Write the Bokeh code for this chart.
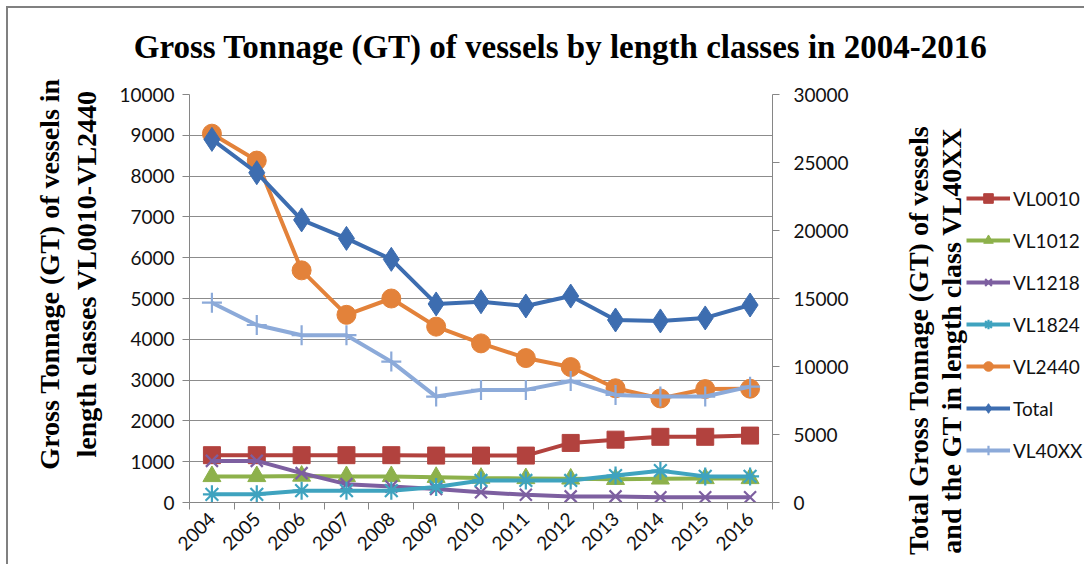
import numpy as np
from math import pi
from bokeh.plotting import figure
from bokeh.layouts import row, column
from bokeh.models import Range1d, LinearAxis, FixedTicker, Legend, LegendItem, Label, Title
from bokeh.embed import file_html
from bokeh.resources import INLINE

years = ["2004", "2005", "2006", "2007", "2008", "2009", "2010",
         "2011", "2012", "2013", "2014", "2015", "2016"]
vl0010 = [1160, 1160, 1160, 1160, 1160, 1150, 1150, 1150, 1460, 1540, 1610, 1610, 1640]
vl1012 = [640, 640, 650, 640, 640, 620, 600, 590, 580, 570, 580, 590, 590]
vl1218 = [1020, 1020, 720, 450, 390, 330, 250, 190, 150, 150, 130, 130, 130]
vl1824 = [200, 200, 290, 290, 290, 380, 540, 540, 540, 660, 780, 640, 640]
vl2440 = [9040, 8380, 5690, 4600, 5000, 4310, 3900, 3540, 3320, 2800, 2550, 2780, 2790]
total = [26700, 24250, 20780, 19420, 17880, 14600, 14760, 14450, 15180, 13420, 13350, 13570, 14520]
vl40xx = [14690, 13050, 12300, 12300, 10360, 7790, 8280, 8280, 8940, 7910, 7790, 7790, 8520]

left_ticks = list(range(0, 10001, 1000))
right_ticks = list(range(0, 30001, 5000))

x = np.arange(len(years)) + 0.5

TICK_FONT = "Lato"
AXC = "#868686"
SERIF = "Liberation Serif"
NB = "\u00a0"

PX0, PY0 = 8, 8
TITLE_H = 70
MAIN_W = 844
SIDE_W = 232
MAIN_H = 486


def blank_fig(w, h, xr, yr, **kw):
    f = figure(width=w, height=h, output_backend="svg", toolbar_location=None,
               x_range=Range1d(*xr), y_range=Range1d(*yr),
               x_axis_location=None, y_axis_location=None,
               min_border_right=0, min_border_top=0, min_border_bottom=0, **kw)
    f.grid.visible = False
    f.outline_line_color = None
    f.background_fill_color = "white"
    f.border_fill_color = "white"
    return f


# ---- title strip (page-pixel data coordinates)
pt = blank_fig(MAIN_W + SIDE_W, TITLE_H, (PX0, PX0 + MAIN_W + SIDE_W), (PY0 + TITLE_H, PY0),
               min_border_left=0)
pt.add_layout(Label(x=560, y=46, text="Gross Tonnage (GT) of vessels by length classes in 2004-2016",
                    text_font=SERIF, text_font_style="bold", text_font_size="33px",
                    text_align="center", text_baseline="middle", text_color="#000000"))

# ---- main chart
p = figure(width=MAIN_W, height=MAIN_H, output_backend="svg", toolbar_location=None,
           x_range=Range1d(0, len(years)), y_range=Range1d(0, 10000),
           min_border_left=181, min_border_right=80, min_border_top=16, min_border_bottom=62)
p.extra_y_ranges = {"right": Range1d(0, 30000)}
p.outline_line_color = None
p.background_fill_color = "white"
p.border_fill_color = "white"

xa = p.xaxis[0]
xa.ticker = FixedTicker(ticks=list(x), minor_ticks=list(range(len(years) + 1)))
xa.major_label_overrides = {float(v): y for v, y in zip(x, years)}
xa.major_label_orientation = pi / 4
xa.major_tick_out = 0
xa.major_tick_in = 0
xa.minor_tick_out = 7
xa.minor_tick_in = 0
xa.minor_tick_line_color = AXC
xa.axis_line_color = AXC
xa.major_label_text_font = TICK_FONT
xa.major_label_text_font_size = "19px"
xa.major_label_text_color = "#111111"
xa.major_label_standoff = 6

ya = p.yaxis[0]
ya.ticker = FixedTicker(ticks=left_ticks)
ya.major_tick_out = 7
ya.major_tick_in = 0
ya.minor_tick_out = 0
ya.minor_tick_in = 0
ya.axis_line_color = AXC
ya.major_tick_line_color = AXC
ya.major_label_text_font = TICK_FONT
ya.major_label_text_font_size = "19px"
ya.major_label_text_color = "#111111"
ya.major_label_standoff = 8
ya.axis_label = NB * 7 + "Gross Tonnage (GT) of vessels in\n" + NB * 7 + "length classes VL0010-VL2440"
ya.axis_label_text_font = SERIF
ya.axis_label_text_font_style = "bold"
ya.axis_label_text_font_size = "28px"
ya.axis_label_text_color = "#000000"
ya.axis_label_text_line_height = 1.2
ya.axis_label_standoff = 14

ra = LinearAxis(y_range_name="right", ticker=FixedTicker(ticks=right_ticks))
ra.major_tick_out = 7
ra.major_tick_in = 0
ra.minor_tick_out = 0
ra.minor_tick_in = 0
ra.axis_line_color = AXC
ra.major_tick_line_color = AXC
ra.major_label_text_font = TICK_FONT
ra.major_label_text_font_size = "19px"
ra.major_label_text_color = "#111111"
ra.major_label_standoff = 14
p.add_layout(ra, "right")

p.xgrid.visible = False
p.ygrid.ticker = FixedTicker(ticks=left_ticks)
p.ygrid.grid_line_color = "#8c8c8c"
p.ygrid.grid_line_width = 1

LW = 4
series = [
    ("VL0010", vl0010, "#B2423E", "square", 17, "default"),
    ("VL1012", vl1012, "#8DB14B", "triangle", 18, "default"),
    ("VL1218", vl1218, "#7D5FA0", "x", 17, "default"),
    ("VL1824", vl1824, "#3FA3BF", "asterisk", 18, "default"),
    ("VL2440", vl2440, "#E3823A", "circle", 19, "default"),
    ("Total", total, "#3D6DB0", "diamond", 24, "right"),
    ("VL40XX", vl40xx, "#8CAAD9", "cross", 20, "right"),
]

# ---- side panel: right-axis title (left-side titles) and legend (in frame)
p2 = blank_fig(SIDE_W, MAIN_H, (-2, -1), (-2, -1), min_border_left=114)

t_line2 = Title(text="and the GT in length class VL40XX" + NB * 12, align="center",
                text_font=SERIF, text_font_style="bold", text_font_size="28px",
                text_color="#000000", standoff=0)
t_line1 = Title(text="Total Gross Tonnage (GT) of vessels" + NB * 12, align="center",
                text_font=SERIF, text_font_style="bold", text_font_size="28px",
                text_color="#000000", standoff=0)
p2.add_layout(t_line2, "left")
p2.add_layout(t_line1, "left")


def scatter_style(mk, col, sz):
    if mk in ("x", "asterisk", "cross"):
        return dict(marker=mk, size=sz, line_color=col, line_width=2.2)
    return dict(marker=mk, size=sz, fill_color=col, line_color=col, line_width=1)


items = []
for name, vals, col, mk, sz, rng in series:
    kw = {} if rng == "default" else {"y_range_name": rng}
    p.line(x, vals, line_color=col, line_width=LW, **kw)
    p.scatter(x, vals, **scatter_style(mk, col, sz), **kw)
    # legend proxies in the side panel (their data lie outside its visible range)
    ln2 = p2.line(x, vals, line_color=col, line_width=LW)
    sc2 = p2.scatter(x, vals, **scatter_style(mk, col, sz))
    items.append(LegendItem(label=name, renderers=[ln2, sc2]))

legend = Legend(items=items, location=(0, 40), orientation="vertical")
legend.background_fill_alpha = 0
legend.border_line_alpha = 0
legend.padding = 0
legend.margin = 0
legend.spacing = 18
legend.glyph_width = 44
legend.glyph_height = 24
legend.label_height = 24
legend.label_standoff = 3
legend.label_text_font = TICK_FONT
legend.label_text_font_size = "19px"
legend.label_text_color = "#111111"
p2.add_layout(legend)

layout = column(pt, row(p, p2, spacing=0), spacing=0,
                styles={"border-top": "2px solid #808080", "border-left": "2px solid #808080",
                        "margin-left": "6px", "margin-top": "6px"})

open("out.html", "w").write(file_html(layout, INLINE))
